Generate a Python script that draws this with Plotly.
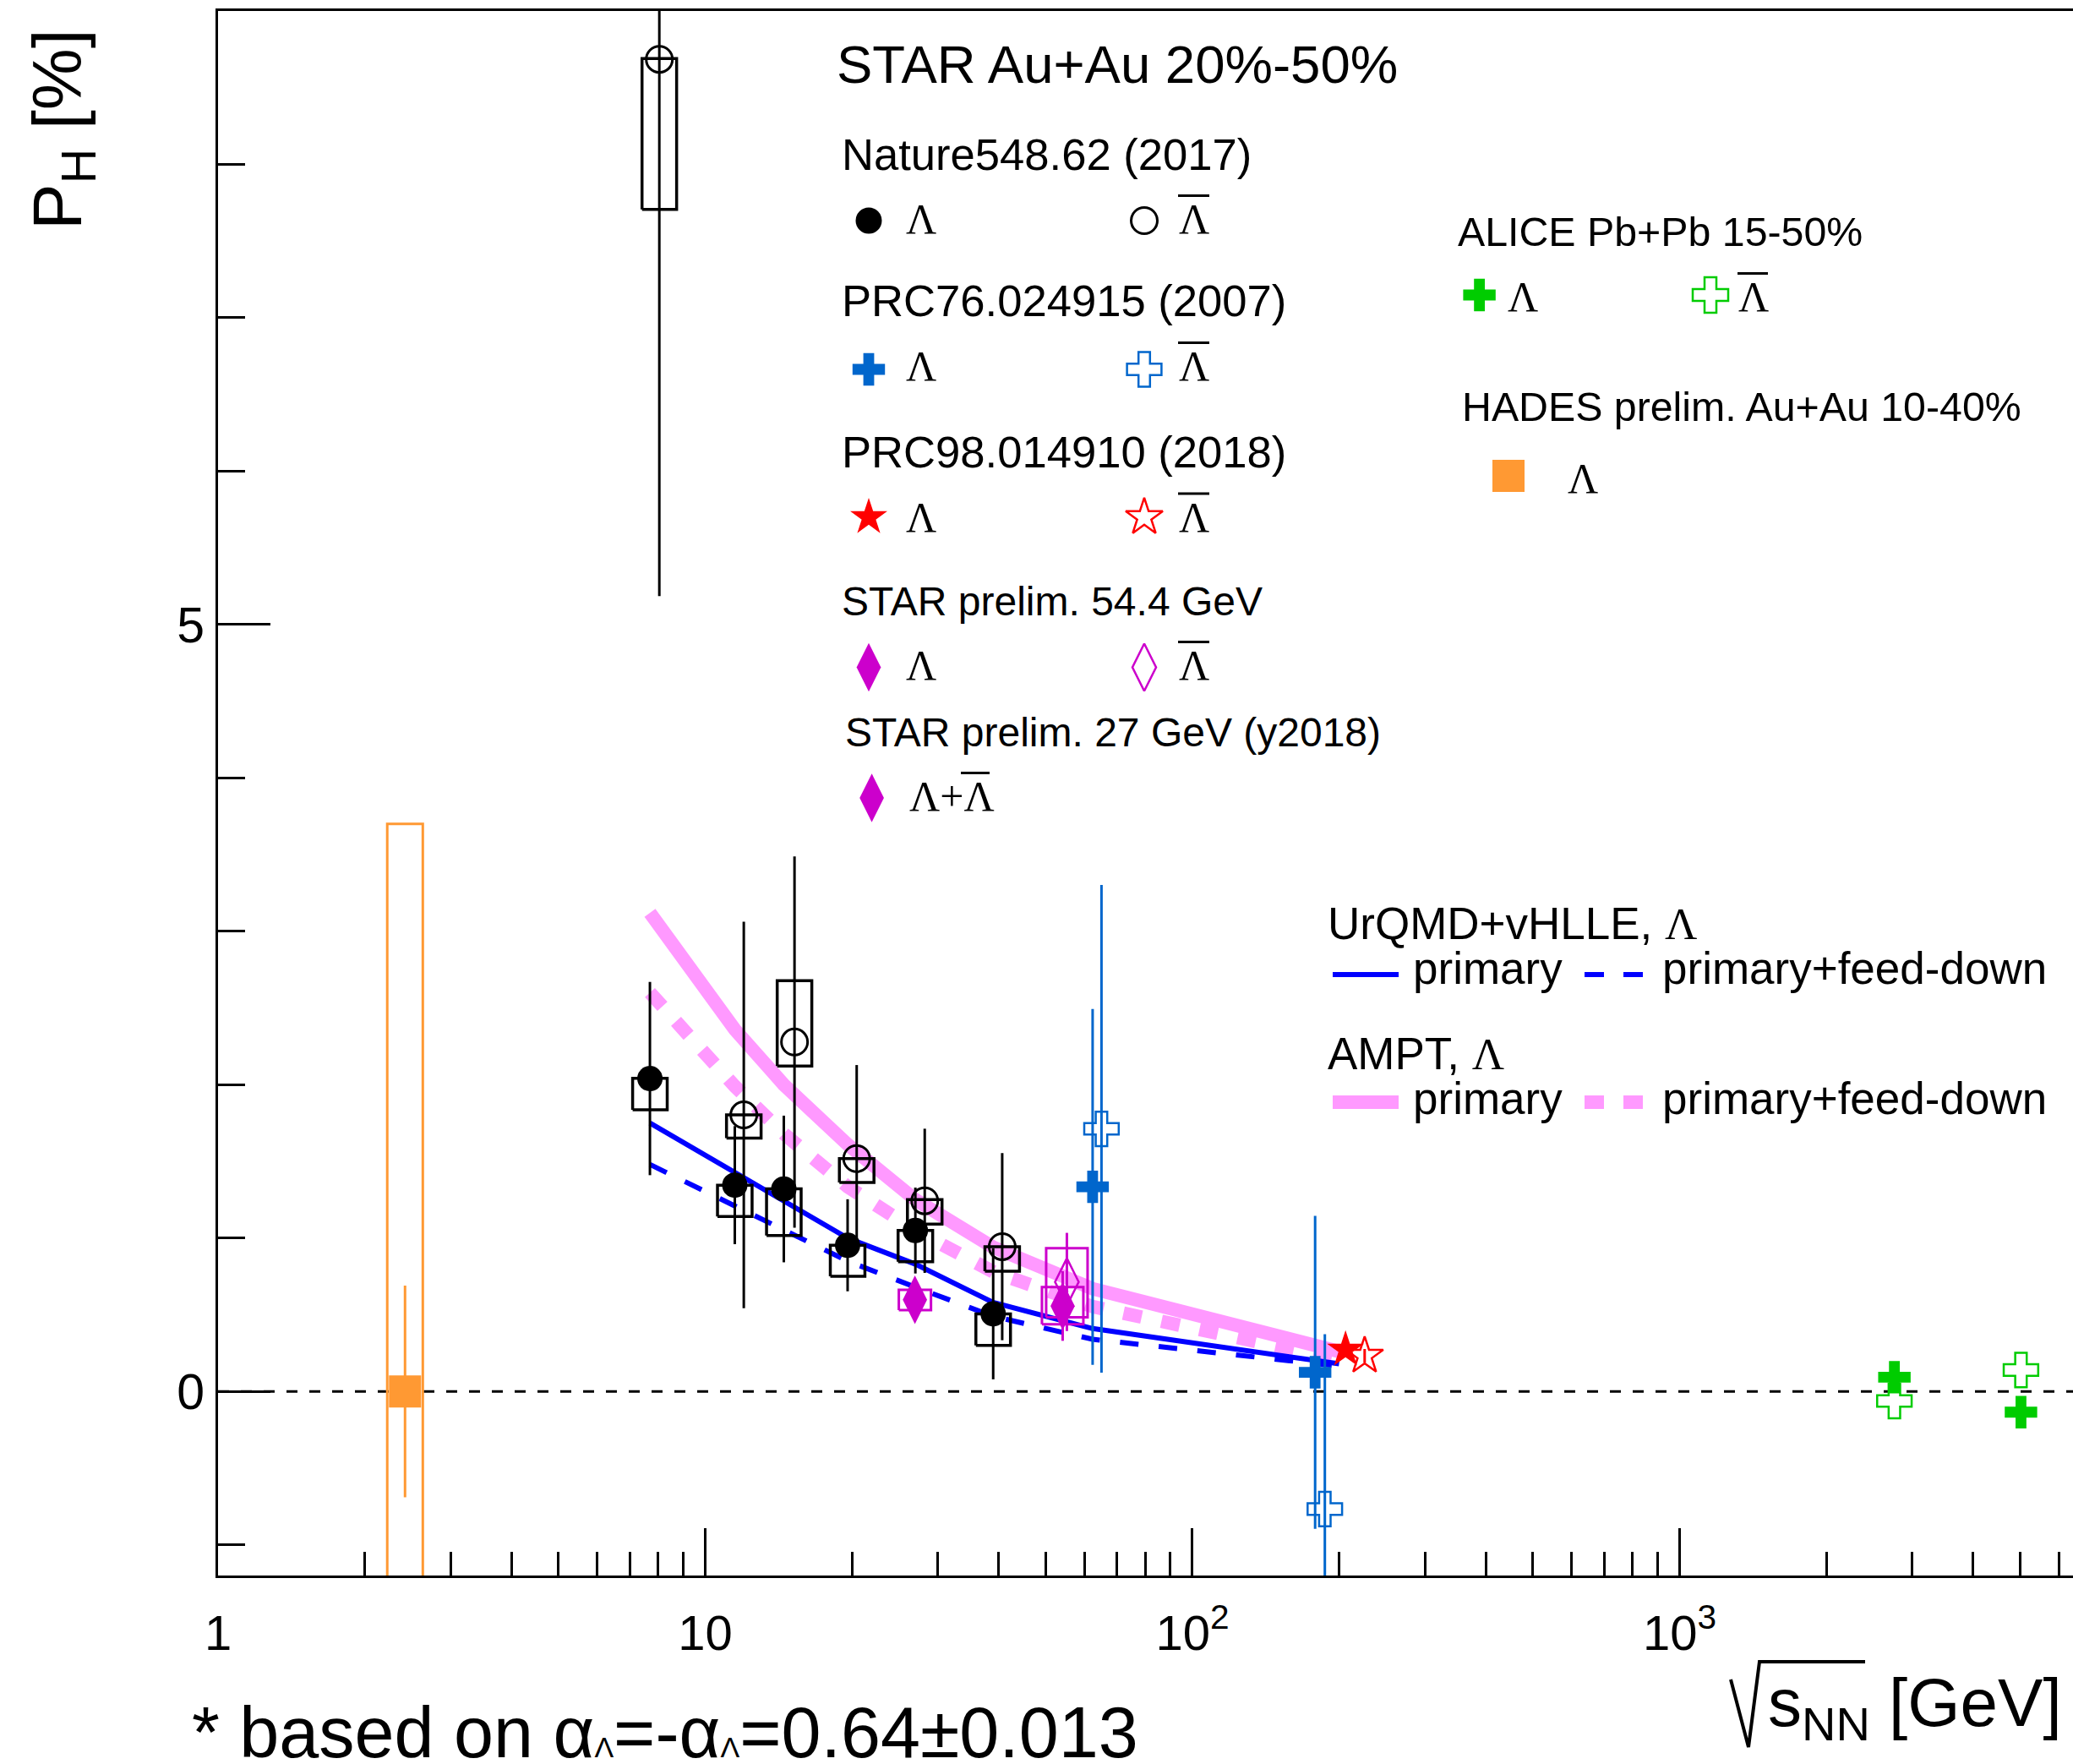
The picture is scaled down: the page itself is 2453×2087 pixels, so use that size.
import plotly.graph_objects as go

# ---------------- data ----------------
# STAR, Nature 548, 62 (2017)
star_lam_x = [7.7, 11.5, 14.5, 19.6, 27.0, 39.0]
star_lam_y = [2.04, 1.345, 1.32, 0.953, 1.049, 0.506]
star_lam_err = [0.63, 0.385, 0.478, 0.30, 0.28, 0.427]
star_lam_sys_lo = [1.836, 1.141, 1.017, 0.751, 0.846, 0.300]
star_lam_sys_hi = [2.042, 1.345, 1.321, 0.953, 1.049, 0.506]

star_alam_x = [8.05, 12.0, 15.25, 20.46, 28.22, 40.7]
star_alam_y = [8.685, 1.803, 2.278, 1.518, 1.243, 0.944]
star_alam_err = [3.5, 1.26, 1.21, 0.61, 0.47, 0.61]
star_alam_sys_lo = [7.707, 1.652, 2.121, 1.363, 1.091, 0.784]
star_alam_sys_hi = [8.690, 1.803, 2.678, 1.518, 1.251, 0.944]

# STAR, PRC 76 024915 (2007)
prc76_lam_x = [62.4, 178.6]
prc76_lam_y = [1.334, 0.125]
prc76_lam_err = [1.16, 1.02]
prc76_alam_x = [65.07, 187.0]
prc76_alam_y = [1.712, -0.767]
prc76_alam_err = [1.59, 1.14]

# STAR, PRC 98 014910 (2018)
prc98_lam_x = [206.2]
prc98_lam_y = [0.272]
prc98_lam_err = [0.04]
prc98_alam_x = [225.7]
prc98_alam_y = [0.232]
prc98_alam_err = [0.045]

# STAR prelim. 54.4 GeV
p54_lam_x = [54.16]
p54_lam_y = [0.557]
p54_lam_err = [0.227]
p54_lam_sys_lo = [0.438]
p54_lam_sys_hi = [0.681]
p54_alam_x = [55.25]
p54_alam_y = [0.714]
p54_alam_err = [0.32]
p54_alam_sys_lo = [0.484]
p54_alam_sys_hi = [0.934]

# STAR prelim. 27 GeV (y2018), Lambda + anti-Lambda
p27_x = [26.94]
p27_y = [0.598]
p27_err = [0.05]
p27_sys_lo = [0.530]
p27_sys_hi = [0.662]

# HADES prelim. Au+Au 10-40%
hades_x = [2.42]
hades_y = [0.0]
hades_err = [0.69]
hades_sys_lo = [-3.7]
hades_sys_hi = [3.7]

# ALICE Pb+Pb 15-50%
alice_lam_x = [2760.0, 5020.0]
alice_lam_y = [0.093, -0.135]
alice_alam_x = [2760.0, 5020.0]
alice_alam_y = [-0.062, 0.140]

# Models
model_x = [7.7, 11.5, 14.5, 19.6, 27.0, 39.0, 62.4, 200.0]
urqmd_primary = [1.75, 1.43, 1.24, 1.00, 0.83, 0.58, 0.41, 0.18]
urqmd_feeddown = [1.48, 1.21, 1.05, 0.85, 0.68, 0.49, 0.34, 0.165]
ampt_primary = [3.12, 2.36, 2.00, 1.61, 1.25, 0.94, 0.67, 0.26]
ampt_feeddown = [2.60, 1.99, 1.68, 1.335, 1.05, 0.78, 0.553, 0.21]

# axis ticks
x_tick_vals = [1, 10, 100, 1000]
x_tick_text = ["1", "10", "10<sup>2</sup>", "10<sup>3</sup>"]
x_minor_vals = [k * 10 ** d for d in range(4) for k in range(2, 10)]
y_tick_vals = [0, 5]
y_tick_text = ["0", "5"]

# ---------------- layout constants ----------------
W, H = 2453, 2087
L, R, T, B = 258, 0, 13, 223
PW = W - L - R
PH = H - T - B

SANS = "Liberation Sans, Arial, Helvetica, sans-serif"
SERIF = "Liberation Serif"

C_PINK = "#FF99FF"
C_BLUE = "#0000FF"
C_PRC = "#0066CC"
C_MAG = "#CC00CC"
C_GREEN = "#00CC00"
C_ORANGE = "#FF9933"
C_RED = "#FF0000"


def px_x(px):
    return (px - L) / PW


def px_y(py):
    return (H - B - py) / PH


fig = go.Figure()


def model(y, color, width, dash=None):
    fig.add_trace(go.Scatter(x=model_x, y=y, mode="lines",
                             line=dict(color=color, width=width, dash=dash),
                             hoverinfo="skip", showlegend=False))


model(ampt_primary, C_PINK, 16)
model(ampt_feeddown, C_PINK, 16, "22px,24px")
model(urqmd_primary, C_BLUE, 6)
model(urqmd_feeddown, C_BLUE, 6, "22px,24px")


def boxes(xc, lo, hi, hw, color, width):
    xs, ys = [], []
    for x, l, h in zip(xc, lo, hi):
        x0, x1 = x * 10 ** (-hw), x * 10 ** hw
        xs += [x0, x1, x1, x0, x0, None]
        ys += [l, l, h, h, l, None]
    fig.add_trace(go.Scatter(x=xs, y=ys, mode="lines",
                             line=dict(color=color, width=width),
                             hoverinfo="skip", showlegend=False))


boxes(star_lam_x, star_lam_sys_lo, star_lam_sys_hi, 0.0355, "black", 3.5)
boxes(star_alam_x, star_alam_sys_lo, star_alam_sys_hi, 0.0355, "black", 3.5)
boxes(p54_lam_x, p54_lam_sys_lo, p54_lam_sys_hi, 0.0425, C_MAG, 3)
boxes(p54_alam_x, p54_alam_sys_lo, p54_alam_sys_hi, 0.0425, C_MAG, 3)
boxes(p27_x, p27_sys_lo, p27_sys_hi, 0.033, C_MAG, 3)
boxes(hades_x, hades_sys_lo, hades_sys_hi, 0.0365, C_ORANGE, 3)


def points(x, y, err, symbol, size, color, lw=0, ethick=3):
    kw = {}
    if err is not None:
        kw["error_y"] = dict(type="data", array=err, width=0,
                             thickness=ethick, color=color)
    fig.add_trace(go.Scatter(x=x, y=y, mode="markers",
                             marker=dict(symbol=symbol, size=size, color=color,
                                         line=dict(color=color, width=lw)),
                             hoverinfo="skip", showlegend=False, **kw))


points(hades_x, hades_y, hades_err, "square", 38, C_ORANGE, 0, 3)
points(star_lam_x, star_lam_y, star_lam_err, "circle", 30, "black")
points(star_alam_x, star_alam_y, star_alam_err, "circle-open", 31, "black", 3)
points(p27_x, p27_y, p27_err, "diamond-tall", 41, C_MAG)
points(p54_lam_x, p54_lam_y, p54_lam_err, "diamond-tall", 41, C_MAG)
points(p54_alam_x, p54_alam_y, p54_alam_err, "diamond-tall-open", 40, C_MAG, 2.5)
points(prc76_lam_x, prc76_lam_y, prc76_lam_err, "cross", 32, C_PRC)
points(prc76_alam_x, prc76_alam_y, prc76_alam_err, "cross-open", 34, C_PRC, 2.5)
points(prc98_lam_x, prc98_lam_y, prc98_lam_err, "star", 33, C_RED)
points(prc98_alam_x, prc98_alam_y, prc98_alam_err, "star-open", 33, C_RED, 2.5)
points(alice_lam_x, alice_lam_y, None, "cross", 32, C_GREEN)
points(alice_alam_x, alice_alam_y, None, "cross-open", 34, C_GREEN, 2.5)

# ---------------- legend glyphs (pixel overlay axes) ----------------


def lg_marker(px, py, symbol, size, color, lw=0):
    fig.add_trace(go.Scatter(x=[px], y=[py], xaxis="x2", yaxis="y2", mode="markers",
                             marker=dict(symbol=symbol, size=size, color=color,
                                         line=dict(color=color, width=lw)),
                             hoverinfo="skip", showlegend=False, cliponaxis=False))


def lg_line(x0, x1, py, color, width, dash=None):
    fig.add_trace(go.Scatter(x=[x0, x1], y=[py, py], xaxis="x2", yaxis="y2", mode="lines",
                             line=dict(color=color, width=width, dash=dash),
                             hoverinfo="skip", showlegend=False))


lg_marker(1028, 261, "circle", 31, "black")
lg_marker(1354, 261, "circle-open", 31, "black", 3)
lg_marker(1028, 437, "cross", 32, C_PRC)
lg_marker(1354, 437, "cross-open", 34, C_PRC, 2.5)
lg_marker(1028, 612, "star", 33, C_RED)
lg_marker(1354, 612, "star-open", 33, C_RED, 2.5)
lg_marker(1028, 789.5, "diamond-tall", 41, C_MAG)
lg_marker(1354, 789.5, "diamond-tall-open", 40, C_MAG, 2.5)
lg_marker(1031.6, 944, "diamond-tall", 41, C_MAG)
lg_marker(1750.6, 349, "cross", 32, C_GREEN)
lg_marker(2024, 349, "cross-open", 35, C_GREEN, 2.5)
lg_marker(1785, 563, "square", 38, C_ORANGE)

lg_line(1577, 1655, 1153, C_BLUE, 6)
lg_line(1875, 1945, 1153, C_BLUE, 6, "23px,23px")
lg_line(1577, 1655, 1304, C_PINK, 16)
lg_line(1875, 1945, 1304, C_PINK, 16, "23px,23px")

# ---------------- texts ----------------
annotations = []
shapes = []


def txt(x, baseline, text, size, family=SANS, color="black"):
    annotations.append(dict(x=px_x(x), y=px_y(baseline - 0.905 * size),
                            xref="paper", yref="paper", text=text, showarrow=False,
                            xanchor="left", yanchor="top", align="left", borderpad=0,
                            font=dict(size=size, family=family, color=color)))


def bar(x0, x1, py, w=3):
    shapes.append(dict(type="line", xref="paper", yref="paper",
                       x0=px_x(x0), x1=px_x(x1), y0=px_y(py), y1=px_y(py),
                       line=dict(color="black", width=w)))


LAM = '<span style="font-family:Liberation Serif">Λ</span>'

txt(989, 97.6, "STAR Au+Au 20%-50%", 63.5)
txt(995, 199.6, "Nature548.62 (2017)", 52.6)
txt(995, 373, "PRC76.024915 (2007)", 52.6)
txt(995, 551.7, "PRC98.014910 (2018)", 52.6)
txt(995, 727, "STAR prelim. 54.4 GeV", 48)
txt(998.5, 882, "STAR prelim. 27 GeV (y2018)", 48)

for bl in [275.5, 449.6, 628, 803.6]:
    txt(1071, bl, "Λ", 50, SERIF)
    txt(1394, bl, "Λ", 50, SERIF)
    bar(1394, 1431, bl - 44)
txt(1075, 958.5, "Λ+Λ", 50, SERIF)
bar(1137, 1171, 958.5 - 44)

txt(1724, 289.5, "ALICE Pb+Pb 15-50%", 48.3)
txt(1783, 367.6, "Λ", 50, SERIF)
txt(2056, 367.6, "Λ", 50, SERIF)
bar(2056, 2092, 367.6 - 44)
txt(1729, 497, "HADES prelim. Au+Au 10-40%", 48.3)
txt(1854, 582, "Λ", 50, SERIF)

txt(1570, 1110, "UrQMD+vHLLE, " + LAM, 53)
txt(1671, 1163, "primary", 53)
txt(1966, 1163, "primary+feed-down", 53)
txt(1570, 1264, "AMPT, " + LAM, 53)
txt(1671, 1317, "primary", 53)
txt(1966, 1317, "primary+feed-down", 53)

small_lam = '<span style="font-size:34px">Λ</span>'
txt(226, 2078, "* based on α" + small_lam + "=-α" + small_lam + "=0.64±0.013", 84.5)

# axis titles
txt(2091, 2041, "s<sub>NN</sub> [GeV]", 80)
rad = [(2048, 1987), (2069, 2067), (2082, 1966), (2207, 1966)]
path = "M" + " L".join(f"{px_x(a):.5f},{px_y(b):.5f}" for a, b in rad)
shapes.append(dict(type="path", xref="paper", yref="paper", path=path,
                   line=dict(color="black", width=4)))

annotations.append(dict(x=px_x(74), y=px_y(154), xref="paper", yref="paper",
                        text="P<sub>H</sub> [%]", showarrow=False, textangle=-90,
                        xanchor="center", yanchor="middle", borderpad=0,
                        font=dict(size=82, family=SANS, color="black")))

# zero line
shapes.append(dict(type="line", xref="paper", yref="y", x0=0, x1=1, y0=0, y1=0,
                   layer="below", line=dict(color="black", width=3, dash="13px,14px")))

fig.update_layout(
    width=W, height=H,
    margin=dict(l=L, r=R, t=T, b=B, pad=0),
    paper_bgcolor="white", plot_bgcolor="white",
    showlegend=False,
    font=dict(family=SANS, color="black"),
    xaxis=dict(type="log", range=[0, 3.8075], showgrid=False, zeroline=False,
               showline=True, linecolor="black", linewidth=3, mirror=True,
               ticks="inside", ticklen=56, tickwidth=3, tickcolor="black",
               tickmode="array", tickvals=x_tick_vals, ticktext=x_tick_text,
               tickfont=dict(size=58, family=SANS, color="black"),
               ticklabelstandoff=15,
               minor=dict(tickvals=x_minor_vals, ticks="inside", ticklen=28,
                          tickwidth=3, tickcolor="black")),
    yaxis=dict(range=[-1.2, 9.0], showgrid=False, zeroline=False,
               showline=True, linecolor="black", linewidth=3, mirror=False,
               ticks="inside", ticklen=62, tickwidth=3, tickcolor="black",
               tickmode="array", tickvals=y_tick_vals, ticktext=y_tick_text,
               tickfont=dict(size=59, family=SANS, color="black"),
               ticklabelstandoff=1,
               minor=dict(dtick=1, tick0=0, ticks="inside", ticklen=32,
                          tickwidth=3, tickcolor="black")),
    xaxis2=dict(overlaying="x", anchor="y2", range=[L, W], visible=False),
    yaxis2=dict(overlaying="y", anchor="x2", range=[H - B, T], visible=False),
    annotations=annotations,
    shapes=shapes,
)

fig.write_html("out.html")
